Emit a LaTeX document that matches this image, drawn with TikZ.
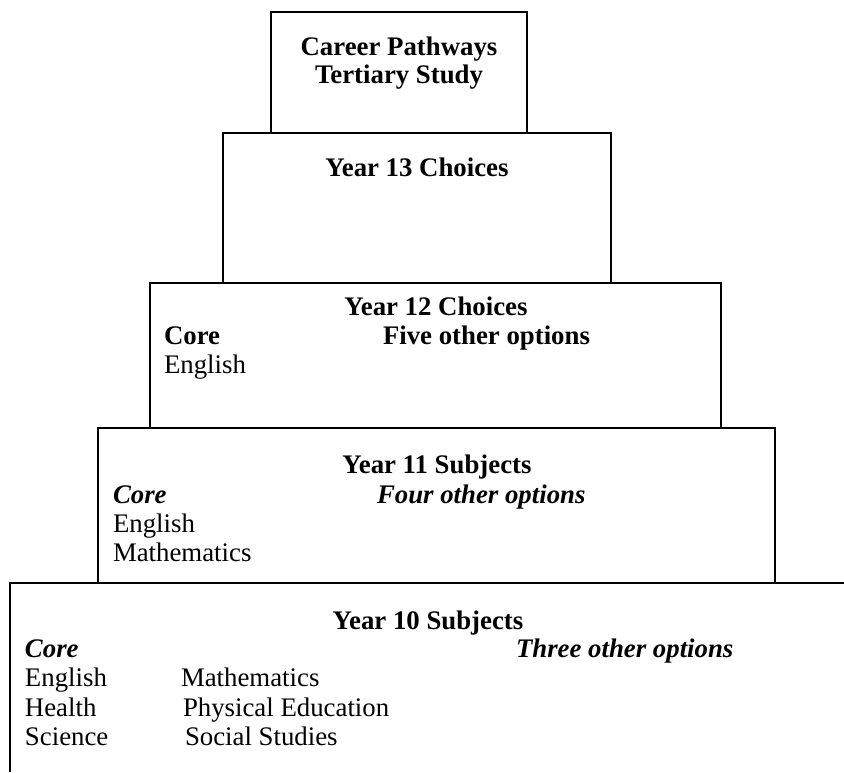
\documentclass[tikz,border=0pt]{standalone}
\usepackage{fontspec}
\setmainfont{Liberation Serif}
\begin{document}
\begin{tikzpicture}[x=0.5pt,y=-0.5pt,line width=1pt]
  \tikzset{
    head/.style={anchor=base,inner sep=0pt,font=\fontsize{13.4}{15}\selectfont\bfseries},
    colhead/.style={anchor=base west,inner sep=0pt,font=\fontsize{13.4}{15}\selectfont\bfseries},
    colit/.style={colhead,font=\fontsize{13.4}{15}\selectfont\bfseries\itshape},
    subj/.style={anchor=base west,inner sep=0pt,font=\fontsize{13.4}{15}\selectfont}
  }
  \useasboundingbox (0,0) rectangle (844,772);
  % boxes of the pyramid
  \draw (271,133) -- (271,12) -- (527,12) -- (527,133);
  \draw (223,133) rectangle (611,283);
  \draw (150,283) rectangle (721,428);
  \draw (98,428) rectangle (775,583);
  \draw (10,772) -- (10,583) -- (844,583);
  % top
  \node[head] (career) at (399,55) {Career Pathways};
  \node[head] (tertiary) at (399,83) {Tertiary Study};
  % year 13
  \node[head] (y13) at (417,176) {Year 13 Choices};
  % year 12
  \node[head] (y12) at (436,315) {Year 12 Choices};
  \node[colhead] (y12core) at (163,344) {Core};
  \node[colhead] (y12opt) at (382,344) {Five other options};
  \node[subj] (y12eng) at (163,373) {English};
  % year 11
  \node[head] (y11) at (437,473) {Year 11 Subjects};
  \node[colit] (y11core) at (112,503) {Core};
  \node[colit] (y11opt) at (376,503) {Four other options};
  \node[subj] (y11eng) at (112,532) {English};
  \node[subj] (y11math) at (112,561) {Mathematics};
  % year 10
  \node[head] (y10) at (428,629) {Year 10 Subjects};
  \node[colit] (y10core) at (24,657) {Core};
  \node[colit] (y10opt) at (515,657) {Three other options};
  \node[subj] (y10eng) at (24,686) {English};
  \node[subj] (y10math) at (180,686) {Mathematics};
  \node[subj] (y10hea) at (24,716) {Health};
  \node[subj] (y10pe) at (182,716) {Physical Education};
  \node[subj] (y10sci) at (24,745) {Science};
  \node[subj] (y10soc) at (184,745) {Social Studies};
\end{tikzpicture}
\end{document}
